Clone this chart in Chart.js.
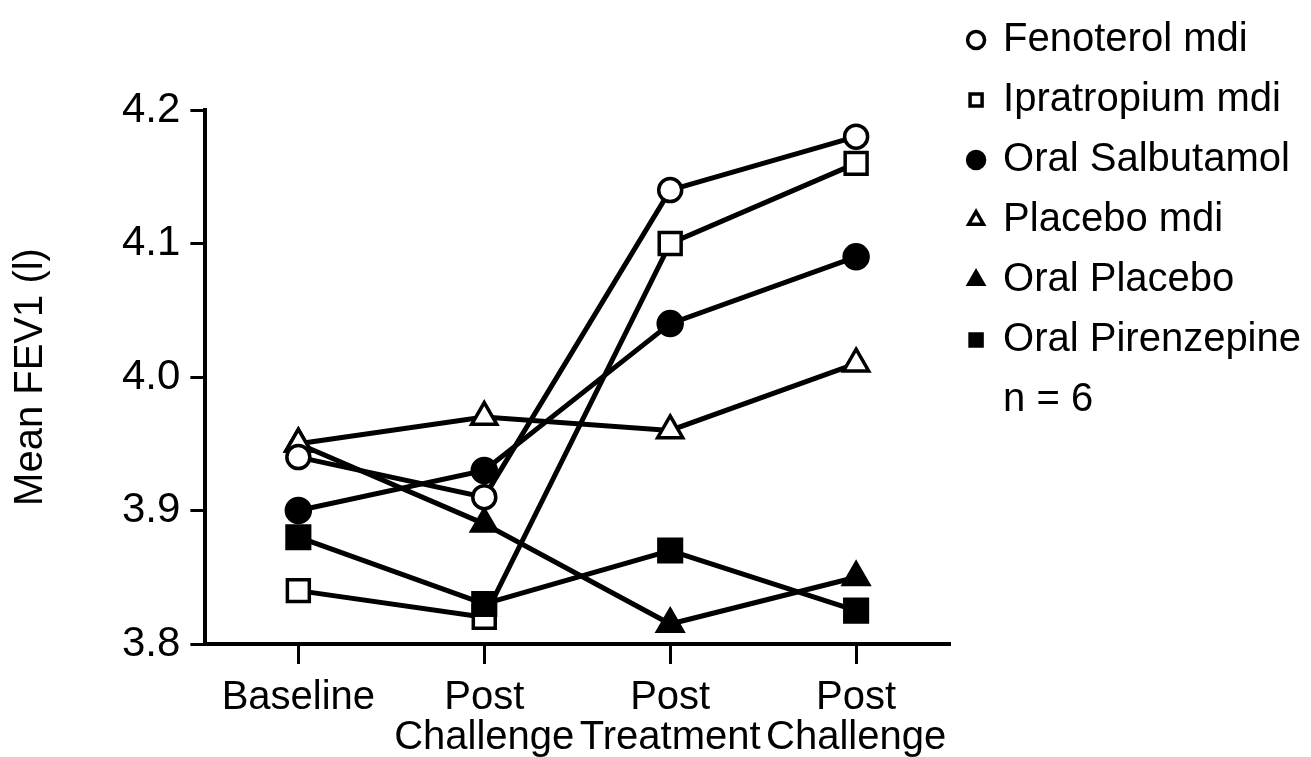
<!DOCTYPE html>
<html>
<head>
<meta charset="utf-8">
<script src="https://cdn.jsdelivr.net/npm/chart.js@4.4.0/dist/chart.umd.min.js"></script>
<style>
    body { margin: 0; background: #ffffff; }
    #chartBox { width: 1311px; height: 757px; }
</style>
</head>
<body>
<div id="chartBox"><canvas id="fevChart"></canvas></div>
<script>
var categories = ["Baseline", ["Post", "Challenge"], ["Post", "Treatment"], ["Post", "Challenge"]];
var yTicks = [3.8, 3.9, 4.0, 4.1, 4.2];

var fenoterolMdi = [3.94, 3.91, 4.14, 4.18];
var ipratropiumMdi = [3.84, 3.82, 4.10, 4.16];
var oralSalbutamol = [3.90, 3.93, 4.04, 4.09];
var placeboMdi = [3.95, 3.97, 3.96, 4.01];
var oralPlacebo = [3.95, 3.89, 3.815, 3.85];
var oralPirenzepine = [3.88, 3.83, 3.87, 3.825];

var seriesNames = ["Fenoterol mdi", "Ipratropium mdi", "Oral Salbutamol", "Placebo mdi", "Oral Placebo", "Oral Pirenzepine"];
var noteText = "n = 6";

var fontFamily = "'Liberation Sans', Arial, Helvetica, sans-serif";

function makeSeries(label, data, style, filled, radius, order)
{
    return {
        label: label,
        data: data,
        borderColor: "#000000",
        borderWidth: 5,
        pointStyle: style,
        pointRadius: radius,
        pointBackgroundColor: filled ? "#000000" : "#ffffff",
        pointBorderColor: "#000000",
        pointBorderWidth: 3.5,
        fill: false,
        tension: 0,
        order: order || 0
    };
}

// legend keeps dataset order, plus the n = 6 note at the bottom
function legendLabels(chart)
{
    var items = Chart.defaults.plugins.legend.labels.generateLabels(chart);
    items.sort(function (a, b) { return a.datasetIndex - b.datasetIndex; });
    items.push({
        text: noteText,
        pointStyle: "circle",
        fillStyle: "rgba(0,0,0,0)",
        strokeStyle: "rgba(0,0,0,0)",
        lineWidth: 0,
        hidden: false,
        fontColor: "#000000"
    });
    return items;
}

var fevChart = new Chart(document.getElementById("fevChart"), {
    type: "line",
    data: {
        labels: categories,
        datasets: [
            makeSeries(seriesNames[0], fenoterolMdi, "circle", false, 11.5),
            makeSeries(seriesNames[1], ipratropiumMdi, "rect", false, 15.5, 1),
            makeSeries(seriesNames[2], oralSalbutamol, "circle", true, 12),
            makeSeries(seriesNames[3], placeboMdi, "triangle", false, 14.5),
            makeSeries(seriesNames[4], oralPlacebo, "triangle", true, 14.5),
            makeSeries(seriesNames[5], oralPirenzepine, "rect", true, 16)
        ]
    },
    options: {
        responsive: true,
        maintainAspectRatio: false,
        animation: false,
        events: [],
        layout: {
            padding: { left: 0, right: 0, top: 0, bottom: -15 }
        },
        scales: {
            x: {
                offset: true,
                grid: {
                    offset: false,
                    drawOnChartArea: false,
                    drawTicks: true,
                    tickLength: 20,
                    color: "#000000",
                    lineWidth: 3
                },
                border: { display: true, color: "#000000", width: 4 },
                ticks: {
                    color: "#000000",
                    padding: 14,
                    maxRotation: 0,
                    autoSkip: false,
                    font: { family: fontFamily, size: 40, lineHeight: 1.0 }
                }
            },
            y: {
                min: yTicks[0],
                max: yTicks[yTicks.length - 1],
                afterBuildTicks: function (scale) {
                    scale.ticks = yTicks.map(function (v) { return { value: v }; });
                },
                grid: {
                    drawOnChartArea: false,
                    drawTicks: true,
                    tickLength: 15,
                    color: "#000000",
                    lineWidth: 3
                },
                border: { display: true, color: "#000000", width: 4 },
                ticks: {
                    color: "#000000",
                    padding: 10,
                    font: { family: fontFamily, size: 42 },
                    callback: function (value) { return Number(value).toFixed(1); }
                },
                title: {
                    display: true,
                    text: "Mean FEV1 (l)",
                    color: "#000000",
                    padding: { top: 7, bottom: 57 },
                    font: { family: fontFamily, size: 40, lineHeight: 1.2 }
                }
            }
        },
        plugins: {
            // empty title only used to push the plot down
            title: {
                display: true,
                text: "",
                fullSize: false,
                padding: 0,
                font: { size: 100, lineHeight: 1.1 }
            },
            legend: {
                position: "right",
                align: "start",
                maxWidth: 420,
                labels: {
                    usePointStyle: true,
                    boxWidth: 14,
                    boxHeight: 12,
                    padding: 20,
                    color: "#000000",
                    font: { family: fontFamily, size: 40 },
                    generateLabels: legendLabels
                }
            },
            tooltip: { enabled: false }
        }
    }
});
</script>
</body>
</html>
